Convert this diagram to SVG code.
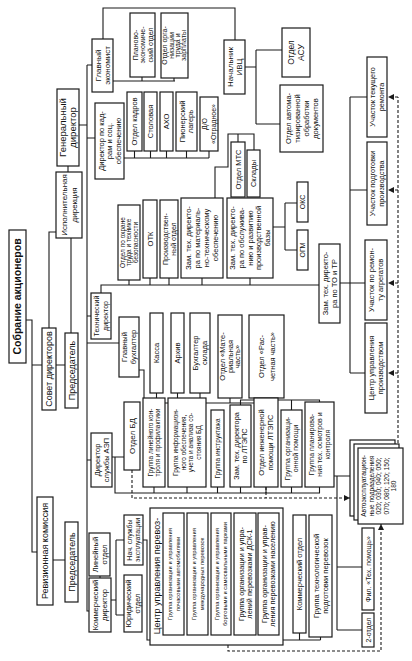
<svg xmlns="http://www.w3.org/2000/svg" width="412" height="661" viewBox="0 0 412 661">
<style>
.b{fill:#fff;stroke:#1a1a1a;stroke-width:1.2}
.c{fill:none;stroke:#1a1a1a;stroke-width:1.1}
.d{fill:none;stroke:#1a1a1a;stroke-width:1.1;stroke-dasharray:3,2}
text{font-family:"Liberation Sans",Arial,sans-serif;fill:#111;text-anchor:middle}
.f105{font-size:10.5px;font-weight:bold}
.f9{font-size:9px}.f95{font-size:9.5px}.f85{font-size:8.5px}.f8{font-size:8px}
.f75{font-size:7.5px}.f7{font-size:7px}.f65{font-size:6.5px}.f58{font-size:5.8px}.f73{font-size:7.3px}.f66{font-size:6.6px}
</style>
<defs>
<marker id="ah" viewBox="0 0 10 10" refX="10" refY="5" markerWidth="7" markerHeight="6" markerUnits="userSpaceOnUse" orient="auto"><path d="M0,0 L10,5 L0,10 z" fill="#1a1a1a"/></marker>
</defs>
<rect width="412" height="661" fill="#fff"/>
<g id="connectors">
<path class="c" d="M26,320 H32 V552 H37 M32,365 H42 M56,365 H65 M53,560 H65 M49,328 V232 H56 M71,333 V238 M68,166 V172 M79,125 H87 M87,65 V611 H89 M87,65 H92 M103,39 V8 H235 V40 M113,81 H175 M142,77 V81 M174,78 V81 M87,138 H95 M124,158 H209 M134.5,151 V158 M150.5,151 V158 M166.5,151 V158 M186.5,151 V158 M209,151 V158 M245,67 H256 M256,50 V124 M256,50 H282 M256,124 H280"/>
<path class="c" d="M87,316 H91 M101,293 V285 H319 M129,280 V285 M150,278 V285 M169,278 V285 M202,278 V285 M250,278 V285 M215,198 V167 H228 V134 H254 V150 M238,134 V142 M273,227 H285 M285,203 V250 M285,203 H297 M285,250 H297 M340,283 H350 M350,97 V373 M350,97 H367 M350,190 H367 M350,283 H365 M350,373 H365"/>
<path class="c" d="M87,343 H119 M139,370 H144 V403 H266 M156.5,393 V403 M177.5,393 V403 M200,393 V403 M230,398 V403 M266,398 V403"/>
<path class="c" d="M87,460 H91 M112,457 H124 M115,457 V493 H320 M154,487 V493 M187,487 V493 M217.5,487 V493 M240.5,487 V493 M266,487 V493 M291.5,487 V493 M319.5,487 V493 M240.5,405 V400 H319.5 V402 M291.5,400 V410"/>
<path class="c" d="M100,576 V578 M111,600 H116 M116,540 V615 M116,540 H124 M116,615 H124 M143,540 H147 V640 H320.5 M173.5,635 V640 M197.5,635 V640 M221,635 V640 M245,635 V640 M268.5,635 V640 M299.5,633 V640 M320.5,637 V640"/>
<path class="c" d="M334,476 H350 M337,476 V630 M337,567 H362 M337,630 H362"/>
<path class="d" d="M132,470 V498 H350" marker-end="url(#ah)"/>
<path class="d" d="M266,487 V498"/>
<path class="d" d="M228,645 V651 H381 V524" marker-end="url(#ah)"/>
<path class="d" d="M398,448 V97"/>
<path class="d" d="M398,97 H388" marker-end="url(#ah)"/>
<path class="d" d="M398,190 H388" marker-end="url(#ah)"/>
<path class="d" d="M398,283 H388" marker-end="url(#ah)"/>
<path class="d" d="M398,373 H388" marker-end="url(#ah)"/>
</g>
<g id="n1"><rect class="b" x="9" y="230" width="17" height="133"/><text class="f105" transform="translate(21.2,296.5) rotate(-90)">Собрание акционеров</text></g>
<g id="n2"><rect class="b" x="37" y="497" width="16" height="108"/><text class="f9" transform="translate(48.2,551) rotate(-90)">Ревизионная комиссия</text></g>
<g id="n3"><rect class="b" x="42" y="328" width="14" height="82"/><text class="f9" transform="translate(52.2,369) rotate(-90)">Совет директоров</text></g>
<g id="n4"><rect class="b" x="65" y="333" width="13" height="75"/><text class="f9" transform="translate(74.7,370.5) rotate(-90)">Председатель</text></g>
<g id="n5"><rect class="b" x="65" y="522" width="13" height="80"/><text class="f9" transform="translate(74.7,562) rotate(-90)">Председатель</text></g>
<g id="n6"><rect class="b" x="56" y="172" width="26" height="66"/><text class="f8" transform="translate(66.8,205) rotate(-90)">Исполнительная</text><text class="f8" transform="translate(76.8,205) rotate(-90)">дирекция</text></g>
<g id="n7"><rect class="b" x="57" y="89" width="22" height="77"/><text class="f95" transform="translate(66.3,127.5) rotate(-90)">Генеральный</text><text class="f95" transform="translate(76.3,127.5) rotate(-90)">директор</text></g>
<g id="n8"><rect class="b" x="92" y="39" width="21" height="53"/><text class="f8" transform="translate(100.8,65.5) rotate(-90)">Главный</text><text class="f8" transform="translate(109.8,65.5) rotate(-90)">экономист</text></g>
<g id="n9"><rect class="b" x="95" y="103" width="29" height="76"/><text class="f75" transform="translate(103.6,141) rotate(-90)">Директор по кад-</text><text class="f75" transform="translate(112.1,141) rotate(-90)">рам и соц.</text><text class="f75" transform="translate(120.6,141) rotate(-90)">обеспечению</text></g>
<g id="n10"><rect class="b" x="130" y="13" width="25" height="64"/><text class="f7" transform="translate(137.5,45) rotate(-90)">Планово-</text><text class="f7" transform="translate(145,45) rotate(-90)">экономиче-</text><text class="f7" transform="translate(152.5,45) rotate(-90)">ский отдел</text></g>
<g id="n11"><rect class="b" x="161" y="13" width="27" height="65"/><text class="f7" transform="translate(167.4,45.5) rotate(-90)">Отдел орга-</text><text class="f7" transform="translate(173.6,45.5) rotate(-90)">низации</text><text class="f7" transform="translate(179.8,45.5) rotate(-90)">труда и</text><text class="f7" transform="translate(186,45.5) rotate(-90)">зарплаты</text></g>
<g id="n12"><rect class="b" x="224" y="40" width="21" height="54"/><text class="f8" transform="translate(232.8,67) rotate(-90)">Начальник</text><text class="f8" transform="translate(241.8,67) rotate(-90)">ИВЦ</text></g>
<g id="n13"><rect class="b" x="282" y="28" width="28" height="49"/><text class="f85" transform="translate(294,52.5) rotate(-90)">Отдел</text><text class="f85" transform="translate(304,52.5) rotate(-90)">АСУ</text></g>
<g id="n14"><rect class="b" x="280" y="85" width="43" height="67"/><text class="f75" transform="translate(290.6,118.5) rotate(-90)">Отдел автома-</text><text class="f75" transform="translate(299.6,118.5) rotate(-90)">тизированной</text><text class="f75" transform="translate(308.6,118.5) rotate(-90)">обработки</text><text class="f75" transform="translate(317.6,118.5) rotate(-90)">документов</text></g>
<g id="n15"><rect class="b" x="127" y="92" width="15" height="59"/><text class="f75" transform="translate(137.1,121.5) rotate(-90)">Отдел кадров</text></g>
<g id="n16"><rect class="b" x="144" y="92" width="13" height="59"/><text class="f75" transform="translate(153.1,121.5) rotate(-90)">Столовая</text></g>
<g id="n17"><rect class="b" x="160" y="92" width="13" height="59"/><text class="f75" transform="translate(169.1,121.5) rotate(-90)">АХО</text></g>
<g id="n18"><rect class="b" x="176" y="92" width="21" height="59"/><text class="f75" transform="translate(184.9,121.5) rotate(-90)">Пионерский</text><text class="f75" transform="translate(193.4,121.5) rotate(-90)">лагерь</text></g>
<g id="n19"><rect class="b" x="200" y="97" width="18" height="54"/><text class="f7" transform="translate(207.2,124) rotate(-90)">Д/О</text><text class="f7" transform="translate(215.7,124) rotate(-90)">«Отрадное»</text></g>
<g id="n20"><rect class="b" x="231" y="142" width="14" height="55"/><text class="f75" transform="translate(240.6,169.5) rotate(-90)">Отдел МТС</text></g>
<g id="n21"><rect class="b" x="247" y="150" width="13" height="47"/><text class="f75" transform="translate(256.1,173.5) rotate(-90)">Склады</text></g>
<g id="n22"><rect class="b" x="91" y="293" width="20" height="46"/><text class="f7" transform="translate(99.2,316) rotate(-90)">Технический</text><text class="f7" transform="translate(107.7,316) rotate(-90)">директор</text></g>
<g id="n23"><rect class="b" x="118" y="205" width="22" height="75"/><text class="f65" transform="translate(124.5,242.5) rotate(-90)">Отдел по охране</text><text class="f65" transform="translate(131.3,242.5) rotate(-90)">труда и технике</text><text class="f65" transform="translate(138.1,242.5) rotate(-90)">безопасности</text></g>
<g id="n24"><rect class="b" x="143" y="200" width="14" height="78"/><text class="f75" transform="translate(152.6,239) rotate(-90)">ОТК</text></g>
<g id="n25"><rect class="b" x="160" y="200" width="18" height="78"/><text class="f7" transform="translate(167.5,239) rotate(-90)">Производствен-</text><text class="f7" transform="translate(175.5,239) rotate(-90)">ный отдел</text></g>
<g id="n26"><rect class="b" x="181" y="198" width="42" height="80"/><text class="f75" transform="translate(191.1,238) rotate(-90)">Зам. тех. директо-</text><text class="f75" transform="translate(200.1,238) rotate(-90)">ра по материаль-</text><text class="f75" transform="translate(209.1,238) rotate(-90)">но-техническому</text><text class="f75" transform="translate(218.1,238) rotate(-90)">обеспечению</text></g>
<g id="n27"><rect class="b" x="227" y="198" width="46" height="80"/><text class="f75" transform="translate(235.4,238) rotate(-90)">Зам. тех. директо-</text><text class="f75" transform="translate(244,238) rotate(-90)">ра по обслужива-</text><text class="f75" transform="translate(252.6,238) rotate(-90)">нию и развитию</text><text class="f75" transform="translate(261.2,238) rotate(-90)">производственной</text><text class="f75" transform="translate(269.8,238) rotate(-90)">базы</text></g>
<g id="n28"><rect class="b" x="297" y="182" width="11" height="40"/><text class="f7" transform="translate(304.9,202) rotate(-90)">ОКС</text></g>
<g id="n29"><rect class="b" x="297" y="230" width="11" height="40"/><text class="f7" transform="translate(304.9,250) rotate(-90)">ОГМ</text></g>
<g id="n30"><rect class="b" x="319" y="244" width="21" height="79"/><text class="f75" transform="translate(327.6,283.5) rotate(-90)">Зам. тех. директо-</text><text class="f75" transform="translate(336.6,283.5) rotate(-90)">ра по ТО и ТР</text></g>
<g id="n31"><rect class="b" x="367" y="57" width="20" height="80"/><text class="f73" transform="translate(375.3,97) rotate(-90)">Участок текущего</text><text class="f73" transform="translate(383.8,97) rotate(-90)">ремонта</text></g>
<g id="n32"><rect class="b" x="367" y="142" width="20" height="83"/><text class="f73" transform="translate(375.3,183.5) rotate(-90)">Участок подготовки</text><text class="f73" transform="translate(383.8,183.5) rotate(-90)">производства</text></g>
<g id="n33"><rect class="b" x="365" y="240" width="22" height="80"/><text class="f75" transform="translate(374.1,280) rotate(-90)">Участок по ремон-</text><text class="f75" transform="translate(383.1,280) rotate(-90)">ту агрегатов</text></g>
<g id="n34"><rect class="b" x="365" y="323" width="22" height="90"/><text class="f75" transform="translate(374.1,368) rotate(-90)">Центр управления</text><text class="f75" transform="translate(383.1,368) rotate(-90)">производством</text></g>
<g id="n35"><rect class="b" x="119" y="317" width="20" height="60"/><text class="f75" transform="translate(127.4,347) rotate(-90)">Главный</text><text class="f75" transform="translate(135.9,347) rotate(-90)">бухгалтер</text></g>
<g id="n36"><rect class="b" x="150" y="313" width="13" height="80"/><text class="f75" transform="translate(159.1,353) rotate(-90)">Касса</text></g>
<g id="n37"><rect class="b" x="171" y="313" width="13" height="80"/><text class="f75" transform="translate(180.1,353) rotate(-90)">Архив</text></g>
<g id="n38"><rect class="b" x="190" y="313" width="20" height="80"/><text class="f75" transform="translate(198.4,353) rotate(-90)">Бухгалтер</text><text class="f75" transform="translate(206.9,353) rotate(-90)">склада</text></g>
<g id="n39"><rect class="b" x="218" y="315" width="24" height="83"/><text class="f75" transform="translate(225.1,356.5) rotate(-90)">Отдел «Мате-</text><text class="f75" transform="translate(232.6,356.5) rotate(-90)">риальная</text><text class="f75" transform="translate(240.1,356.5) rotate(-90)">часть»</text></g>
<g id="n40"><rect class="b" x="249" y="315" width="35" height="83"/><text class="f75" transform="translate(263.6,356.5) rotate(-90)">Отдел «Рас-</text><text class="f75" transform="translate(274.6,356.5) rotate(-90)">четная часть»</text></g>
<g id="n41"><rect class="b" x="91" y="433" width="21" height="54"/><text class="f75" transform="translate(99.6,460) rotate(-90)">Директор</text><text class="f75" transform="translate(108.6,460) rotate(-90)">службы АЭП</text></g>
<g id="n42"><rect class="b" x="124" y="402" width="16" height="68"/><text class="f8" transform="translate(134.8,436) rotate(-90)">Отдел БД</text></g>
<g id="n43"><rect class="b" x="143" y="398" width="22" height="89"/><text class="f65" transform="translate(152.5,442.5) rotate(-90)">Группа линейного кон-</text><text class="f65" transform="translate(160,442.5) rotate(-90)">троля и профилактики</text></g>
<g id="n44"><rect class="b" x="168" y="398" width="38" height="89"/><text class="f65" transform="translate(178,442.5) rotate(-90)">Группа информацион-</text><text class="f65" transform="translate(185.5,442.5) rotate(-90)">ного обеспечения,</text><text class="f65" transform="translate(193,442.5) rotate(-90)">учета и анализа со-</text><text class="f65" transform="translate(200.5,442.5) rotate(-90)">стояния БД</text></g>
<g id="n45"><rect class="b" x="211" y="410" width="13" height="77"/><text class="f65" transform="translate(219.8,448.5) rotate(-90)">Группа инструктажа</text></g>
<g id="n46"><rect class="b" x="230" y="405" width="21" height="82"/><text class="f73" transform="translate(238.8,446) rotate(-90)">Зам. тех. директора</text><text class="f73" transform="translate(247.3,446) rotate(-90)">по ЛТЭПС</text></g>
<g id="n47"><rect class="b" x="254" y="398" width="24" height="89"/><text class="f75" transform="translate(264.1,442.5) rotate(-90)">Отдел инженерной</text><text class="f75" transform="translate(273.1,442.5) rotate(-90)">помощи ЛТЭПС</text></g>
<g id="n48"><rect class="b" x="281" y="410" width="21" height="77"/><text class="f7" transform="translate(289.7,448.5) rotate(-90)">Группа организаци-</text><text class="f7" transform="translate(298.2,448.5) rotate(-90)">онной помощи</text></g>
<g id="n49"><rect class="b" x="305" y="402" width="29" height="85"/><text class="f7" transform="translate(314,444.5) rotate(-90)">Группа планирова-</text><text class="f7" transform="translate(322,444.5) rotate(-90)">ния тех. осмотров и</text><text class="f7" transform="translate(330,444.5) rotate(-90)">контроля</text></g>
<g id="n50"><rect class="b" x="89" y="533" width="21" height="43"/><text class="f75" transform="translate(97.6,554.5) rotate(-90)">Линейный</text><text class="f75" transform="translate(106.6,554.5) rotate(-90)">отдел</text></g>
<g id="n51"><rect class="b" x="89" y="578" width="22" height="54"/><text class="f75" transform="translate(98.1,605) rotate(-90)">Коммерческий</text><text class="f75" transform="translate(107.1,605) rotate(-90)">директор</text></g>
<g id="n52"><rect class="b" x="124" y="575" width="18" height="57"/><text class="f75" transform="translate(131.4,603.5) rotate(-90)">Юридический</text><text class="f75" transform="translate(139.9,603.5) rotate(-90)">отдел</text></g>
<g id="n53"><rect class="b" x="124" y="515" width="19" height="50"/><text class="f7" transform="translate(131.7,540) rotate(-90)">Нач. службы</text><text class="f7" transform="translate(140.2,540) rotate(-90)">эксплуатации</text></g>
<g id="n54"><rect class="b" x="150" y="508" width="133" height="137"/><text class="f9" transform="translate(160.2,576) rotate(-90)">Центр управления перевоз-</text></g>
<g id="n55"><rect class="b" x="163" y="513" width="21" height="122"/><text class="f58" transform="translate(171.5,574) rotate(-90)">Группа организации и управления</text><text class="f58" transform="translate(179.5,574) rotate(-90)">почасовыми автомобилями</text></g>
<g id="n56"><rect class="b" x="187" y="513" width="21" height="122"/><text class="f58" transform="translate(195.5,574) rotate(-90)">Группа организации и управления</text><text class="f58" transform="translate(203.5,574) rotate(-90)">международных перевозок</text></g>
<g id="n57"><rect class="b" x="211" y="513" width="20" height="122"/><text class="f58" transform="translate(219,574) rotate(-90)">Группа организации и управления</text><text class="f58" transform="translate(227,574) rotate(-90)">бортовыми и самосвальными парками</text></g>
<g id="n58"><rect class="b" x="234" y="513" width="22" height="122"/><text class="f73" transform="translate(243.5,574) rotate(-90)">Группа организации и упра-</text><text class="f73" transform="translate(251.5,574) rotate(-90)">лений перевозками ДСК-1</text></g>
<g id="n59"><rect class="b" x="258" y="513" width="21" height="122"/><text class="f73" transform="translate(267,574) rotate(-90)">Группа организации и управ-</text><text class="f73" transform="translate(275,574) rotate(-90)">ления перевозками населению</text></g>
<g id="n60"><rect class="b" x="293" y="515" width="13" height="118"/><text class="f75" transform="translate(302.1,574) rotate(-90)">Коммерческий отдел</text></g>
<g id="n61"><rect class="b" x="309" y="515" width="23" height="122"/><text class="f75" transform="translate(318.6,576) rotate(-90)">Группа технологической</text><text class="f75" transform="translate(327.6,576) rotate(-90)">подготовки перевозок</text></g>
<g id="n62"><rect class="b" x="350" y="440" width="45" height="76"/><rect class="b" x="354" y="444" width="45" height="76"/><rect class="b" x="358" y="448" width="45" height="76"/><text class="f66" transform="translate(366.3,486) rotate(-90)">Автоэксплуатацион-</text><text class="f66" transform="translate(373.8,486) rotate(-90)">ные подразделения</text><text class="f66" transform="translate(381.3,486) rotate(-90)">020; 030; 040; 050;</text><text class="f66" transform="translate(388.8,486) rotate(-90)">070; 080; 120; 150;</text><text class="f66" transform="translate(396.3,486) rotate(-90)">180</text></g>
<g id="n63"><rect class="b" x="362" y="528" width="12" height="82"/><text class="f7" transform="translate(370.5,569) rotate(-90)">Фил. «Тех. помощь»</text></g>
<g id="n64"><rect class="b" x="362" y="613" width="12" height="34"/><text class="f7" transform="translate(370.5,630) rotate(-90)">2-отдел</text></g>
</svg>
